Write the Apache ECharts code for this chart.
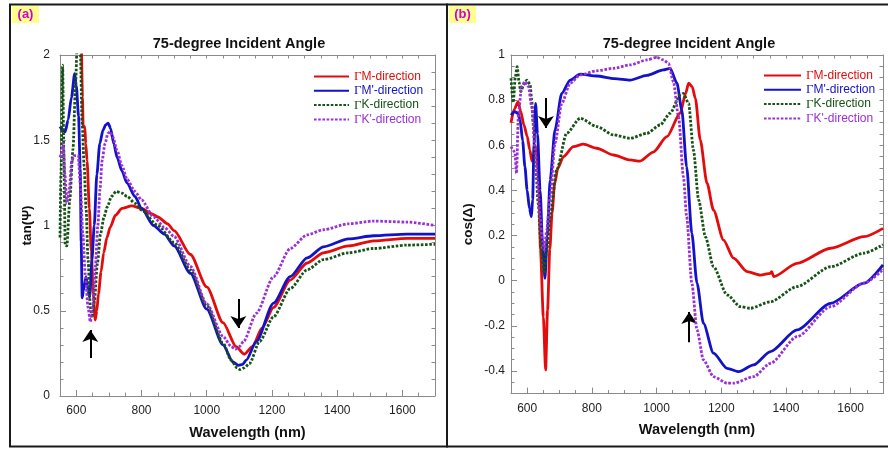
<!DOCTYPE html>
<html>
<head>
<meta charset="utf-8">
<script src="https://cdn.jsdelivr.net/npm/echarts@6/dist/echarts.min.js"></script>
<style>
  html, body { margin: 0; padding: 0; background: #fff; }
  #chart { width: 888px; height: 449px; }
</style>
</head>
<body>
<div id="chart"></div>
<script>
// ---- data ----
const seriesNames = ['ΓM-direction', "ΓM'-direction", 'ΓK-direction', "ΓK'-direction"];

// (a) tan(Psi)
const tanWlM = [614, 619, 621, 626, 629, 633, 640, 646, 652, 658, 663, 668, 676, 684, 694, 704, 720, 740, 770, 800, 830, 850, 880, 900, 950, 1000, 1050, 1090, 1115, 1140, 1170, 1205, 1256, 1308, 1358, 1435, 1512, 1614, 1700];
const tanM = [2.3, 1.75, 1.58, 1.58, 1.48, 1.38, 1.1, 0.85, 0.6, 0.445, 0.5, 0.6, 0.73, 0.84, 0.93, 0.99, 1.06, 1.1, 1.115, 1.1, 1.07, 1.05, 1.01, 0.97, 0.83, 0.64, 0.43, 0.29, 0.245, 0.29, 0.4, 0.52, 0.68, 0.78, 0.84, 0.88, 0.91, 0.925, 0.925];

const tanWlMp = [550, 558, 566, 575, 585, 595, 600, 607, 612, 615, 618, 622, 630, 636, 641, 648, 655, 663, 672, 682, 690, 698, 705, 715, 725, 740, 755, 780, 800, 837, 870, 900, 950, 1000, 1050, 1080, 1097, 1110, 1121, 1152, 1205, 1256, 1308, 1358, 1435, 1512, 1614, 1700];
const tanMp = [1.58, 1.56, 1.55, 1.62, 1.75, 1.89, 1.82, 1.64, 1.33, 0.9, 0.575, 0.62, 0.7, 0.62, 0.58, 0.8, 1.0, 1.3, 1.48, 1.56, 1.59, 1.6, 1.57, 1.48, 1.4, 1.32, 1.25, 1.17, 1.1, 1.0, 0.95, 0.88, 0.72, 0.51, 0.3, 0.2, 0.18, 0.185, 0.21, 0.32, 0.545, 0.7, 0.81, 0.875, 0.922, 0.94, 0.95, 0.95];

const tanWlK = [550, 553, 558, 562, 566, 571, 580, 590, 598, 604, 612, 618, 624, 630, 636, 643, 648, 655, 665, 674, 685, 695, 708, 722, 740, 756, 780, 800, 850, 900, 950, 1000, 1050, 1075, 1093, 1102, 1115, 1131, 1162, 1205, 1256, 1308, 1358, 1435, 1512, 1614, 1700];
const tanK = [0.93, 1.3, 1.94, 1.4, 0.885, 0.88, 1.15, 1.45, 1.85, 2.15, 2.05, 1.6, 1.35, 1.1, 0.8, 0.52, 0.46, 0.55, 0.78, 0.95, 1.05, 1.11, 1.17, 1.2, 1.19, 1.17, 1.13, 1.09, 1.0, 0.9, 0.74, 0.53, 0.31, 0.21, 0.165, 0.155, 0.165, 0.19, 0.32, 0.465, 0.63, 0.74, 0.8, 0.84, 0.865, 0.885, 0.89];

const tanWlKp = [550, 555, 560, 565, 571, 578, 586, 594, 600, 606, 612, 620, 628, 636, 643, 650, 658, 666, 673, 679, 688, 697, 704, 712, 725, 740, 756, 780, 800, 837, 870, 900, 950, 1000, 1050, 1075, 1088, 1100, 1113, 1152, 1205, 1256, 1308, 1358, 1435, 1512, 1614, 1700];
const tanKp = [1.4, 1.42, 1.48, 1.3, 1.13, 1.2, 1.38, 1.41, 1.41, 1.41, 1.25, 0.95, 0.7, 0.52, 0.435, 0.52, 0.75, 1.0, 1.22, 1.38, 1.48, 1.54, 1.55, 1.52, 1.44, 1.35, 1.27, 1.2, 1.15, 1.05, 0.99, 0.935, 0.76, 0.54, 0.35, 0.29, 0.275, 0.29, 0.32, 0.485, 0.7, 0.865, 0.945, 0.975, 1.01, 1.026, 1.02, 1.0];

// (b) cos(Delta)
const cosWlM = [550, 560, 572, 580, 590, 600, 608, 615, 620, 625, 630, 636, 641, 650, 657, 663, 670, 677, 685, 695, 712, 743, 774, 815, 867, 918, 949, 990, 1032, 1073, 1090, 1099, 1110, 1120, 1135, 1156, 1176, 1207, 1238, 1280, 1321, 1352, 1356, 1362, 1434, 1538, 1641, 1700];
const cosM = [0.7, 0.76, 0.793, 0.75, 0.69, 0.64, 0.58, 0.53, 0.56, 0.6, 0.55, 0.43, 0.14, -0.16, -0.395, -0.13, 0.14, 0.3, 0.43, 0.5, 0.55, 0.594, 0.605, 0.587, 0.557, 0.535, 0.53, 0.57, 0.638, 0.742, 0.83, 0.875, 0.86, 0.808, 0.624, 0.432, 0.313, 0.18, 0.1, 0.04, 0.025, 0.033, 0.04, 0.018, 0.077, 0.144, 0.195, 0.232];

const cosWlMp = [550, 562, 572, 578, 586, 593, 600, 607, 613, 617, 621, 626, 632, 640, 648, 655, 662, 671, 686, 707, 733, 764, 815, 870, 918, 970, 1021, 1042, 1063, 1078, 1093, 1109, 1125, 1145, 1176, 1218, 1254, 1300, 1352, 1434, 1538, 1641, 1700];
const cosMp = [0.734, 0.749, 0.74, 0.712, 0.62, 0.505, 0.4, 0.32, 0.284, 0.36, 0.6, 0.786, 0.65, 0.4, 0.15, 0.011, 0.2, 0.446, 0.668, 0.83, 0.889, 0.915, 0.907, 0.895, 0.889, 0.91, 0.934, 0.941, 0.875, 0.757, 0.505, 0.21, -0.011, -0.189, -0.321, -0.388, -0.403, -0.373, -0.314, -0.218, -0.1, -0.011, 0.07];

const cosWlK = [550, 557, 563, 569, 575, 580, 590, 599, 609, 614, 619, 626, 634, 643, 652, 660, 671, 691, 722, 764, 815, 867, 918, 970, 1011, 1042, 1073, 1083, 1099, 1114, 1130, 1151, 1176, 1218, 1259, 1290, 1352, 1434, 1538, 1641, 1700];
const cosK = [0.897, 0.79, 0.9, 0.948, 0.88, 0.838, 0.87, 0.889, 0.87, 0.8, 0.698, 0.52, 0.343, 0.15, 0.033, 0.13, 0.284, 0.49, 0.653, 0.72, 0.683, 0.646, 0.631, 0.653, 0.69, 0.742, 0.823, 0.83, 0.786, 0.579, 0.358, 0.195, 0.062, -0.063, -0.115, -0.122, -0.093, -0.026, 0.062, 0.122, 0.16];

const cosWlKp = [550, 562, 567, 573, 583, 593, 604, 614, 624, 632, 640, 647, 653, 660, 671, 686, 707, 733, 764, 815, 867, 918, 970, 1001, 1021, 1037, 1052, 1068, 1083, 1093, 1109, 1125, 1145, 1176, 1218, 1238, 1300, 1352, 1434, 1538, 1641, 1700];
const cosKp = [0.594, 0.57, 0.476, 0.742, 0.86, 0.882, 0.86, 0.771, 0.594, 0.44, 0.284, 0.18, 0.136, 0.22, 0.372, 0.609, 0.786, 0.875, 0.912, 0.93, 0.941, 0.956, 0.978, 0.99, 0.978, 0.963, 0.882, 0.727, 0.461, 0.284, -0.011, -0.218, -0.351, -0.425, -0.454, -0.454, -0.425, -0.366, -0.248, -0.115, -0.011, 0.05];

// arrows: [wavelength, from, to]
const arrowsTan = [[643, 0.223, 0.387], [1097, 0.569, 0.399]];
const arrowsCos = [[658, 0.81, 0.677], [1101, -0.272, -0.139]];

// tick labels
const xLabels = [600, 800, 1000, 1200, 1400, 1600];
const tanLabels = [0, 0.5, 1, 1.5, 2];
const cosLabels = [-0.4, -0.2, 0, 0.2, 0.4, 0.6, 0.8, 1];

// ---- styling ----
const colors = ['#e30b0b', '#1212c8', '#155215', '#9a2fd8'];
const dashes = ['solid', 'solid', [2.6, 1.6], [2.6, 1.6]];
const font = 'Liberation Sans, Arial, sans-serif';
const axisGray = '#8a8a8a';

const chart = echarts.init(document.getElementById('chart'), null, { renderer: 'canvas' });

function pairs(wl, vals) {
    return wl.map((w, i) => [w, vals[i]]);
}
function fmt(v) {
    return String(+(+v).toFixed(2));
}

function lineSeries(i, data, xi, yi) {
    return {
        name: seriesNames[i],
        type: 'line',
        xAxisIndex: xi,
        yAxisIndex: yi,
        data: data,
        symbol: 'none',
        smooth: 0.25,
        smoothMonotone: 'x',
        lineStyle: { color: colors[i], width: 2.8, type: dashes[i] },
        itemStyle: { color: colors[i] },
        z: 3 + i
    };
}

function arrowSeries(list, xi, yi) {
    return {
        type: 'line',
        xAxisIndex: xi,
        yAxisIndex: yi,
        data: [],
        silent: true,
        z: 10,
        markLine: {
            silent: true,
            symbol: ['none', 'arrow'],
            symbolSize: 12,
            label: { show: false },
            lineStyle: { color: '#000', width: 2, type: 'solid' },
            data: list.map(a => [{ coord: [a[0], a[1]] }, { coord: [a[0], a[2]] }])
        }
    };
}

const gridA = { left: 60, top: 55, width: 375, height: 341 };
const gridB = { left: 511, top: 55, width: 372, height: 338.6 };

const labelStyle = { color: '#222', fontSize: 12, fontFamily: font, formatter: fmt };
const nameStyle = { color: '#111', fontSize: 14.5, fontWeight: 'bold', fontFamily: font };

function mainX(grid, gap) {
    return {
        gridIndex: grid, type: 'value', min: 550, max: 1700, position: 'bottom',
        axisLine: { show: true, onZero: false, lineStyle: { color: axisGray, width: 1 } },
        axisTick: { inside: true, length: 6, customValues: xLabels, lineStyle: { color: axisGray } },
        axisLabel: { customValues: xLabels, margin: 9, ...labelStyle },
        splitLine: { show: false },
        name: 'Wavelength (nm)', nameLocation: 'middle', nameGap: gap, nameMoveOverlap: false,
        nameTextStyle: nameStyle
    };
}
function minorX(grid, pos, line) {
    return {
        gridIndex: grid, type: 'value', min: 550, max: 1700, interval: 50, position: pos,
        axisLine: { show: line, onZero: false, lineStyle: { color: axisGray, width: 1 } },
        axisTick: { inside: true, length: 3.5, lineStyle: { color: axisGray } },
        axisLabel: { show: false },
        splitLine: { show: false }
    };
}
function mainY(grid, min, max, labels, name, gap, margin) {
    return {
        gridIndex: grid, type: 'value', min: min, max: max, position: 'left',
        axisLine: { show: true, onZero: false, lineStyle: { color: axisGray, width: 1 } },
        axisTick: { inside: true, length: 6, customValues: labels, lineStyle: { color: axisGray } },
        axisLabel: { customValues: labels, margin: margin, ...labelStyle },
        splitLine: { show: false },
        name: name, nameLocation: 'middle', nameGap: gap, nameMoveOverlap: false,
        nameTextStyle: { ...nameStyle, fontSize: 13.5 }
    };
}
function minorY(grid, min, max, step, pos, line) {
    return {
        gridIndex: grid, type: 'value', min: min, max: max, interval: step, position: pos,
        axisLine: { show: line, onZero: false, lineStyle: { color: axisGray, width: 1 } },
        axisTick: { inside: true, length: 3.5, lineStyle: { color: axisGray } },
        axisLabel: { show: false },
        splitLine: { show: false }
    };
}

function legendFor(left, top, width) {
    return {
        orient: 'vertical', left: left, top: top, padding: 0,
        itemWidth: width, itemHeight: 12, itemGap: 1.3,
        selectedMode: false,
        itemStyle: { opacity: 0, color: 'rgba(0,0,0,0)', borderWidth: 0 },
        textStyle: {
            fontSize: 12, fontFamily: font,
            rich: { g: { fontFamily: 'Liberation Serif, serif', fontSize: 13 } }
        },
        formatter: n => '{g|Γ}' + n.slice(1),
        data: seriesNames.map((n, i) => ({ name: n, textStyle: { color: colors[i] } }))
    };
}

function panelFrame(x, w, tag) {
    return [
        { type: 'rect', shape: { x: x, y: 4.5, width: w, height: 442 }, style: { fill: 'none', stroke: '#1a1a1a', lineWidth: 2 }, z: 100 },
        { type: 'rect', shape: { x: x + 2, y: 6, width: 27, height: 17 }, style: { fill: '#ffff8c' }, z: 100 },
        { type: 'text', x: x + 15.5, y: 14.5, style: { text: tag, fill: '#d000d0', font: 'bold 13px ' + font, textAlign: 'center', textVerticalAlign: 'middle' }, z: 101 }
    ];
}

function titleText(cx) {
    return { type: 'text', x: cx, y: 44, style: { text: '75-degree Incident Angle', fill: '#111', font: 'bold 14.5px ' + font, textAlign: 'center', textVerticalAlign: 'middle' }, z: 100 };
}

const option = {
    backgroundColor: '#fff',
    animation: false,
    grid: [
        { ...gridA, containLabel: false },
        { ...gridB, containLabel: false },
        { ...gridA, containLabel: false },
        { ...gridB, containLabel: false }
    ],
    xAxis: [
        mainX(0, 29),
        minorX(0, 'top', true),
        minorX(2, 'bottom', false),
        mainX(1, 29),
        minorX(1, 'top', true),
        minorX(3, 'bottom', false)
    ],
    yAxis: [
        mainY(0, 0, 2, tanLabels, 'tan(Ψ)', 26, 10),
        minorY(0, 0, 2, 0.1, 'right', true),
        minorY(2, 0, 2, 0.1, 'left', false),
        mainY(1, -0.5, 1, cosLabels, 'cos(Δ)', 36, 6),
        minorY(1, -0.5, 1, 0.05, 'right', true),
        minorY(3, -0.5, 1, 0.05, 'left', false)
    ],
    legend: [legendFor(313, 70, 35), legendFor(763, 69, 37)],
    graphic: [
        ...panelFrame(10, 437, '(a)'),
        ...panelFrame(447, 445, '(b)'),
        titleText(239),
        titleText(689)
    ],
    series: [
        lineSeries(0, pairs(tanWlM, tanM), 0, 0),
        lineSeries(1, pairs(tanWlMp, tanMp), 0, 0),
        lineSeries(2, pairs(tanWlK, tanK), 0, 0),
        lineSeries(3, pairs(tanWlKp, tanKp), 0, 0),
        arrowSeries(arrowsTan, 0, 0),
        lineSeries(0, pairs(cosWlM, cosM), 3, 3),
        lineSeries(1, pairs(cosWlMp, cosMp), 3, 3),
        lineSeries(2, pairs(cosWlK, cosK), 3, 3),
        lineSeries(3, pairs(cosWlKp, cosKp), 3, 3),
        arrowSeries(arrowsCos, 3, 3)
    ]
};

chart.setOption(option);
window.addEventListener('resize', function () {
    chart.resize();
});
</script>
</body>
</html>
